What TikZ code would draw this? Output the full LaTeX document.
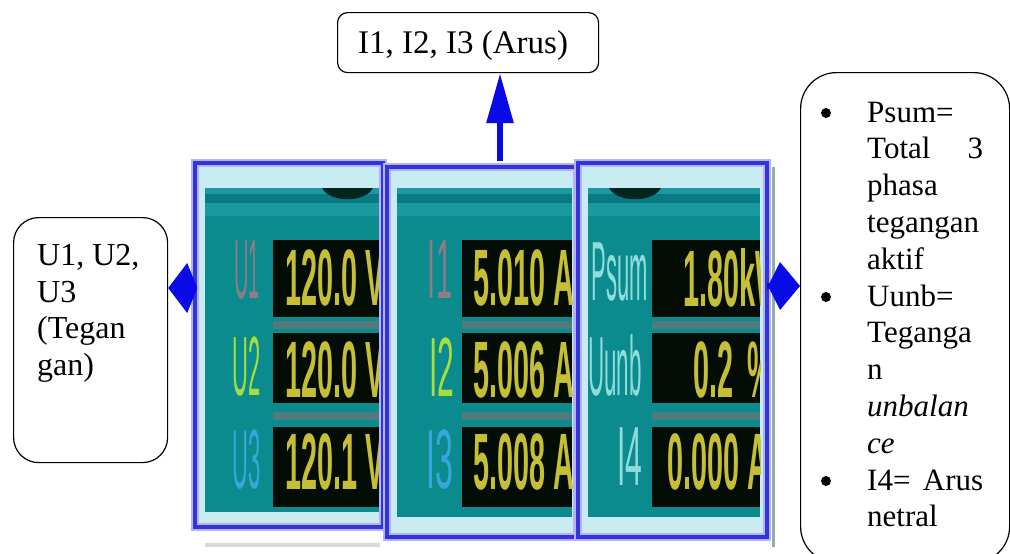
\documentclass[tikz,border=0pt]{standalone}
\usepackage{graphicx}
\usepackage{fontspec}
\setmainfont{Liberation Serif}
\newfontfamily\lcdfont{Liberation Sans}
\usetikzlibrary{arrows.meta}
\definecolor{panelblue}{HTML}{3333DD}
\definecolor{halo}{HTML}{B4B4F4}
\definecolor{lightcyan}{HTML}{C8ECF2}
\definecolor{tealbg}{HTML}{0B8B8E}
\definecolor{tealdark}{HTML}{0A7A82}
\definecolor{teallight}{HTML}{1A9AA0}
\definecolor{lcdblack}{HTML}{040C06}
\definecolor{sepgray}{HTML}{4E7C7E}
\definecolor{digit}{HTML}{C6BF36}
\definecolor{labmauve}{HTML}{8E7C88}
\definecolor{labgreen}{HTML}{A6DE3E}
\definecolor{labblue}{HTML}{38A6DA}
\definecolor{labcyan}{HTML}{8EDCDC}
\definecolor{arrowblue}{HTML}{0A0AE6}
\definecolor{edgegreen}{HTML}{8FB0A4}
% #1 left, #2 top, #3 right, #4 bottom, #5 teal right, #6 teal bottom, #7 lcd left
\newcommand\meterfill[7]{%
  \fill[lightcyan] (#1,#2) rectangle (#3,#4);
  \fill[tealbg] ({#1+10},188) rectangle (#5,#6);
  \fill[teallight] ({#1+10},188) rectangle (#5,194);
  \fill[tealdark] ({#1+10},194) rectangle (#5,203);
  \fill[teallight] ({#1+10},203) rectangle (#5,216);
  \fill[lcdblack] (#7,240) rectangle (#5,317);
  \fill[sepgray] (#7,321) rectangle (#5,329);
  \fill[lcdblack] (#7,333) rectangle (#5,403);
  \fill[sepgray] (#7,412) rectangle (#5,420);
  \fill[lcdblack] (#7,427) rectangle (#5,507);
}
\newcommand\lcdval[1]{\scalebox{0.72}[2.0]{\fontsize{40}{40}\selectfont\lcdfont\bfseries #1}}
\newcommand\lcdlab[2]{\scalebox{#1}[2.1]{\fontsize{40}{40}\selectfont\lcdfont #2}}
\begin{document}
\begin{tikzpicture}[x=1pt,y=-1pt,
  frame/.style={draw=panelblue, line width=4pt, preaction={draw=halo, line width=8pt}, inner sep=0pt},
  callout/.style={draw=black, line width=1.2pt, fill=white, inner sep=0pt, anchor=north west},
  txt/.style={anchor=base west, inner sep=0pt, font=\fontsize{31}{36.8}\selectfont},
  dot/.style={circle, fill=black, inner sep=0pt, minimum size=10pt},
  val/.style={anchor=west, inner sep=0pt, text=digit},
  lab/.style={inner sep=0pt},
  bluearrow/.style={draw=arrowblue, line width=6pt}]
\useasboundingbox (0,0) rectangle (1010,554);
\fill[white] (0,0) rectangle (1010,554);

% ---- panels (fills) ----
\meterfill{195}{163}{383}{527}{381}{512}{273}
\meterfill{387}{167}{577}{537}{572}{517}{462}
\meterfill{578}{163}{767}{537}{760}{517}{652}
\fill[lcdblack!80!tealbg] (322,188) .. controls (330,203) and (365,203) .. (373,188) -- cycle;
\fill[lcdblack!80!tealbg] (609,188) .. controls (617,203) and (653,203) .. (661,188) -- cycle;
\fill[black!15] (205,543) rectangle (380,547);
\fill[edgegreen] (772,167) rectangle (775,547);

% ---- panel 1 text ----
\begin{scope}
\clip (205,188) rectangle (381,512);
\node[lab, text=labmauve] (u1) at (247,270) {\lcdlab{0.5}{U1}};
\node[lab, text=labgreen] (u2) at (247,367) {\lcdlab{0.55}{U2}};
\node[lab, text=labblue] (u3) at (247,460) {\lcdlab{0.55}{U3}};
\node[val] (v1) at (285,278) {\lcdval{120.0 V}};
\node[val] (v2) at (285,370) {\lcdval{120.0 V}};
\node[val] (v3) at (285,462) {\lcdval{120.1 V}};
\end{scope}
% ---- panel 2 text ----
\begin{scope}
\clip (397,188) rectangle (572,517);
\node[lab, text=labmauve] (i1) at (440,270) {\lcdlab{0.72}{I1}};
\node[lab, text=labgreen] (i2) at (442,367) {\lcdlab{0.75}{I2}};
\node[lab, text=labblue] (i3) at (440,460) {\lcdlab{0.8}{I3}};
\node[val] (w1) at (473,278) {\lcdval{5.010 A}};
\node[val] (w2) at (473,370) {\lcdval{5.006 A}};
\node[val] (w3) at (473,462) {\lcdval{5.008 A}};
\end{scope}
% ---- panel 3 text ----
\begin{scope}
\clip (588,188) rectangle (760,517);
\node[lab, text=labcyan] (ps) at (620,272) {\lcdlab{0.55}{Psum}};
\node[lab, text=labcyan] (uu) at (615,365) {\lcdlab{0.56}{Uunb}};
\node[lab, text=labcyan] (i4) at (630,457) {\lcdlab{0.75}{I4}};
\node[val] (x1) at (683,278) {\lcdval{1.80kW}};
\node[val] (x2) at (693,370) {\lcdval{0.2\enspace\%}};
\node[val] (x3) at (667,462) {\lcdval{0.000 A}};
\end{scope}

% ---- panel frames ----
\node[frame, minimum width=188, minimum height=364] (p1) at (289,345) {};
\node[frame, minimum width=190, minimum height=370] (p2) at (482,352) {};
\node[frame, minimum width=189, minimum height=374] (p3) at (672.5,350) {};

% ---- callout boxes ----
\node[callout, rounded corners=10pt, minimum width=261, minimum height=60] (tbox) at (337,12) {};
\node[txt, font=\fontsize{33}{38}\selectfont] (ttext) at (358,53) {I1, I2, I3 (Arus)};

\node[callout, rounded corners=25pt, minimum width=154, minimum height=245] (lbox) at (13,217) {};
\begin{scope}[txt/.append style={font=\fontsize{32}{37}\selectfont}]
\node[txt] (l1) at (37,265) {U1, U2,};
\node[txt] (l2) at (37,302) {U3};
\node[txt] (l3) at (37,338) {(Tegan};
\node[txt] (l4) at (37,375) {gan)};
\end{scope}

\node[callout, rounded corners=36pt, minimum width=209, minimum height=490] (rbox) at (800,72) {};
\node[dot] (b1) at (826,113) {};
\node[dot] (b2) at (826,297) {};
\node[dot] (b3) at (826,481) {};
\node[txt] (r1) at (867,122) {Psum=};
\node[txt] (r2) at (867,158.8) {\makebox[116pt][s]{Total\hfill 3}};
\node[txt] (r3) at (867,195.6) {phasa};
\node[txt] (r4) at (867,232.4) {tegangan};
\node[txt] (r5) at (867,269.2) {aktif};
\node[txt] (r6) at (867,306) {Uunb=};
\node[txt] (r7) at (867,342.8) {Teganga};
\node[txt] (r8) at (867,379.6) {n};
\node[txt] (r9) at (867,416.4) {\textit{unbalan}};
\node[txt] (r10) at (867,453.2) {\textit{ce}};
\node[txt] (r11) at (867,490) {\makebox[116pt][s]{I4=\hfill Arus}};
\node[txt] (r12) at (867,526.8) {netral};

% ---- arrows ----
\coordinate (ua) at (500,161);
\draw[bluearrow, -{Triangle[length=50pt,width=26pt]}] (ua) -- (ua |- tbox.south);
\coordinate (la) at (195,288);
\draw[bluearrow, -{Kite[length=29pt,width=50pt,inset=10pt]}] (la) -- (la -| lbox.east);
\coordinate (ra) at (767,286);
\draw[bluearrow, -{Kite[length=32pt,width=48pt,inset=12pt]}] (ra) -- (ra -| rbox.west);
\end{tikzpicture}
\end{document}
